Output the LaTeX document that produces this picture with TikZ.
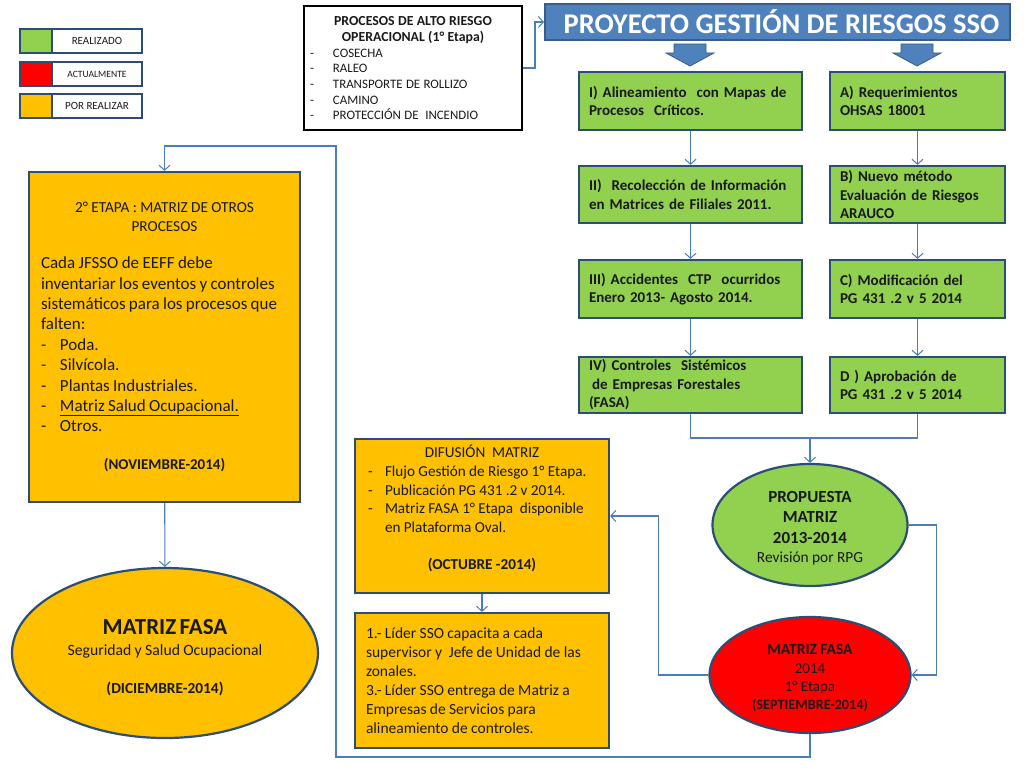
\documentclass[tikz,border=0pt]{standalone}
\usepackage{fontspec}
\setmainfont{Carlito}
\usetikzlibrary{shapes.geometric,arrows.meta}
\definecolor{gr}{HTML}{92D050}
\definecolor{og}{HTML}{FFC000}
\definecolor{rd}{HTML}{FF0000}
\definecolor{bd}{HTML}{2C4D75}
\definecolor{ln}{HTML}{4A7EBB}
\definecolor{tb}{HTML}{4F81BD}
\definecolor{tbd}{HTML}{385D8A}
\definecolor{tx}{HTML}{1A1A1A}
\tikzset{
  conn/.style={draw=ln, line width=1.1pt, -{Straight Barb[length=5pt,width=11pt,line width=1pt]}},
  plain/.style={draw=ln, line width=1.1pt},
  legsq/.style={draw=bd, line width=2pt, minimum width=32pt, minimum height=24pt, inner sep=0pt},
  leglab/.style={draw=bd, line width=2pt, minimum width=90pt, minimum height=24pt, inner sep=0pt, fill=white, text=tx},
  gbox/.style={draw=bd, line width=2.2pt, fill=gr, inner xsep=4pt, inner ysep=0pt, align=left, text=tx, font=\bfseries\fontsize{15}{18.5}\selectfont, execute at begin node={\leftskip=6pt}},
  gboxL/.style={gbox, text width=215pt},
  gboxR/.style={gbox, text width=167pt},
  obox/.style={draw=bd, line width=2.2pt, fill=og, inner ysep=0pt, text=tx},
  oval/.style={ellipse, draw=bd, line width=2.2pt, inner sep=0pt, align=center, text=tx},
  barrow/.style={fill=tb, draw=tbd, line width=0.8pt}
}
\begin{document}
\begin{tikzpicture}[x=1pt,y=-1pt]
\useasboundingbox[fill=white] (0,0) rectangle (1024,768);

% legend
\node[legsq, fill=gr] (lg1) at (36,41) {};
\node[leglab, font=\fontsize{11}{12}\selectfont] (ll1) at (97,41) {REALIZADO};
\node[legsq, fill=rd] (lg2) at (36,74) {};
\node[leglab, font=\fontsize{9.6}{11}\selectfont] (ll2) at (97,74) {ACTUALMENTE};
\node[legsq, fill=og] (lg3) at (36,105.5) {};
\node[leglab, font=\fontsize{11}{12}\selectfont] (ll3) at (97,105.5) {POR REALIZAR};

% top process box
\node[draw=black, line width=2pt, fill=white, minimum width=218pt, minimum height=124pt, text width=210pt, inner xsep=4pt, inner ysep=0pt, text=tx] (proc) at (413,68) {%
  {\fontsize{13.8}{16.5}\selectfont\centering\bfseries PROCESOS DE ALTO RIESGO\\OPERACIONAL (1° Etapa)\par}
  \fontsize{12.9}{15.6}\selectfont\raggedright\leftskip=2pt
  \makebox[23pt][l]{-}COSECHA\\
  \makebox[23pt][l]{-}RALEO\\
  \makebox[23pt][l]{-}TRANSPORTE DE ROLLIZO\\
  \makebox[23pt][l]{-}CAMINO\\
  \makebox[23pt][l]{-}PROTECCIÓN DE\ \ INCENDIO\par};

% title
\node[fill=tb, draw=tbd, line width=2pt, minimum width=465pt, minimum height=36pt, inner sep=0pt, text=white, font=\bfseries\fontsize{28.5}{30}\selectfont] (title) at (777.5,22) {\hspace*{8pt}PROYECTO GESTIÓN DE RIESGOS SSO};

% block arrows
\draw[barrow] (674,44) -- (706,44) -- (706,53) -- (714,53) -- (690,66) -- (666,53) -- (674,53) -- cycle;
\draw[barrow] (901,44) -- (933,44) -- (933,53) -- (941,53) -- (917,66) -- (893,53) -- (901,53) -- cycle;

% green boxes left column
\node[gboxL, minimum height=58pt] (g1) at (690.5,101) {I) Alineamiento\ \ con Mapas de\\Procesos\ \ Críticos.};
\node[gboxL, minimum height=57pt] (g2) at (690.5,194.5) {II)\ \ Recolección de Información\\en Matrices de Filiales 2011.};
\node[gboxL, minimum height=58pt] (g3) at (690.5,289) {III) Accidentes\ \ CTP\ \ ocurridos\\Enero 2013- Agosto 2014.};
\node[gboxL, minimum height=56pt] (g4) at (690.5,385) {IV) Controles\ \ Sistémicos\\\hspace*{3pt}de Empresas Forestales\\(FASA)};

% green boxes right column
\node[gboxR, minimum height=58pt] (ga) at (917.5,101) {A) Requerimientos\\OHSAS 18001};
\node[gboxR, minimum height=57pt] (gb) at (917.5,194.5) {B) Nuevo método\\Evaluación de Riesgos\\ARAUCO};
\node[gboxR, minimum height=58pt] (gc) at (917.5,289) {C) Modificación del\\PG 431 .2 v 5 2014};
\node[gboxR, minimum height=56pt] (gd) at (917.5,385) {D ) Aprobación de\\PG 431 .2 v 5 2014};

% ellipses right
\node[oval, fill=gr, minimum width=195pt, minimum height=122pt, text width=130pt] (prop) at (810,525) {%
  {\fontsize{17}{20.5}\selectfont\bfseries\rule{0pt}{17pt}PROPUESTA\\MATRIZ\\2013-2014\par}
  {\fontsize{15.4}{19.5}\selectfont Revisión por RPG\par}};
\node[oval, fill=rd, minimum width=201pt, minimum height=116pt, text width=136pt] (fasa14) at (810,675) {%
  {\fontsize{15.5}{18.5}\selectfont\bfseries\rule{0pt}{16pt}MATRIZ FASA\par}
  {\fontsize{15}{18.5}\selectfont 2014\\1° Etapa\par}
  {\fontsize{14.2}{17.5}\selectfont\bfseries (SEPTIEMBRE-2014)\par}};

% orange boxes middle
\node[obox, minimum width=254pt, minimum height=154pt, text width=242pt, inner xsep=6pt] (dif) at (482,516) {%
  \fontsize{15.2}{18.7}\selectfont
  {\centering DIFUSIÓN\ \ MATRIZ\par}
  \raggedright\leftskip=7pt
  \makebox[17pt][l]{-}Flujo Gestión de Riesgo 1° Etapa.\\
  \makebox[17pt][l]{-}Publicación PG 431 .2 v 2014.\\
  \makebox[17pt][l]{-}Matriz FASA 1° Etapa\ \ disponible\\
  \hspace*{17pt}en Plataforma Oval.\par
  \vspace{18.7pt}
  {\leftskip=0pt\centering\bfseries (OCTUBRE -2014)\par}
  \vspace*{15pt}};
\node[obox, minimum width=254pt, minimum height=135pt, text width=240pt, inner xsep=7pt] (lider) at (482,680.5) {%
  \fontsize{15.5}{19}\selectfont\raggedright\leftskip=4pt
  1.- Líder SSO capacita a cada\\
  supervisor y\ \ Jefe de Unidad de las\\
  zonales.\\
  3.- Líder SSO entrega de Matriz a\\
  Empresas de Servicios para\\
  alineamiento de controles.\par};

% left orange box
\node[obox, minimum width=271pt, minimum height=330pt, text width=255pt, inner xsep=8pt] (etapa2) at (164.5,337) {%
  {\fontsize{15.3}{19}\selectfont\centering 2° ETAPA : MATRIZ DE OTROS\\PROCESOS\par}
  \vspace{17pt}
  {\fontsize{17}{20.4}\selectfont\raggedright\leftskip=4pt
  Cada JFSSO de EEFF debe\\
  inventariar los eventos y controles\\
  sistemáticos para los procesos que\\
  falten:\\
  \makebox[19pt][l]{-}Poda.\\
  \makebox[19pt][l]{-}Silvícola.\\
  \makebox[19pt][l]{-}Plantas Industriales.\\
  \makebox[19pt][l]{-}\underline{Matriz Salud Ocupacional.}\\
  \makebox[19pt][l]{-}Otros.\par}
  \vspace{19pt}
  {\fontsize{15}{19}\selectfont\centering\bfseries (NOVIEMBRE-2014)\par}};

% left ellipse
\node[oval, fill=og, minimum width=306pt, minimum height=170pt, text width=212pt] (fasaL) at (165,653) {%
  {\fontsize{23}{23}\selectfont\bfseries\rule{0pt}{25pt}MATRIZ FASA\par}
  {\fontsize{15.7}{21}\selectfont Seguridad y Salud Ocupacional\par}
  \vspace{17pt}
  {\fontsize{15.4}{21}\selectfont\bfseries (DICIEMBRE-2014)\par}};

% connectors
\draw[conn] (proc.east) -- ++(12,0) |- (title.west);
\draw[conn] (g1) -- (g2);
\draw[conn] (g2) -- (g3);
\draw[conn] (g3) -- (g4);
\draw[conn] (ga) -- (gb);
\draw[conn] (gb) -- (gc);
\draw[conn] (gc) -- (gd);
\coordinate (j) at (810,438);
\draw[plain] (g4.south) |- (j);
\draw[plain] (gd.south) |- (j);
\draw[conn] (j) -- (prop.north);
\draw[conn] (prop.east) -- ++(28,0) |- (fasa14.east);
\draw[conn] (fasa14.west) -- ++(-50,0) |- (dif.east);
\draw[conn] (dif) -- (lider);
\coordinate (b1) at (336,757);
\coordinate (b2) at (336,146);
\draw[conn] (fasa14.south) |- (b1) -- (b2) -| (etapa2.north);
\draw[conn] (etapa2) -- (fasaL);
\end{tikzpicture}
\end{document}
